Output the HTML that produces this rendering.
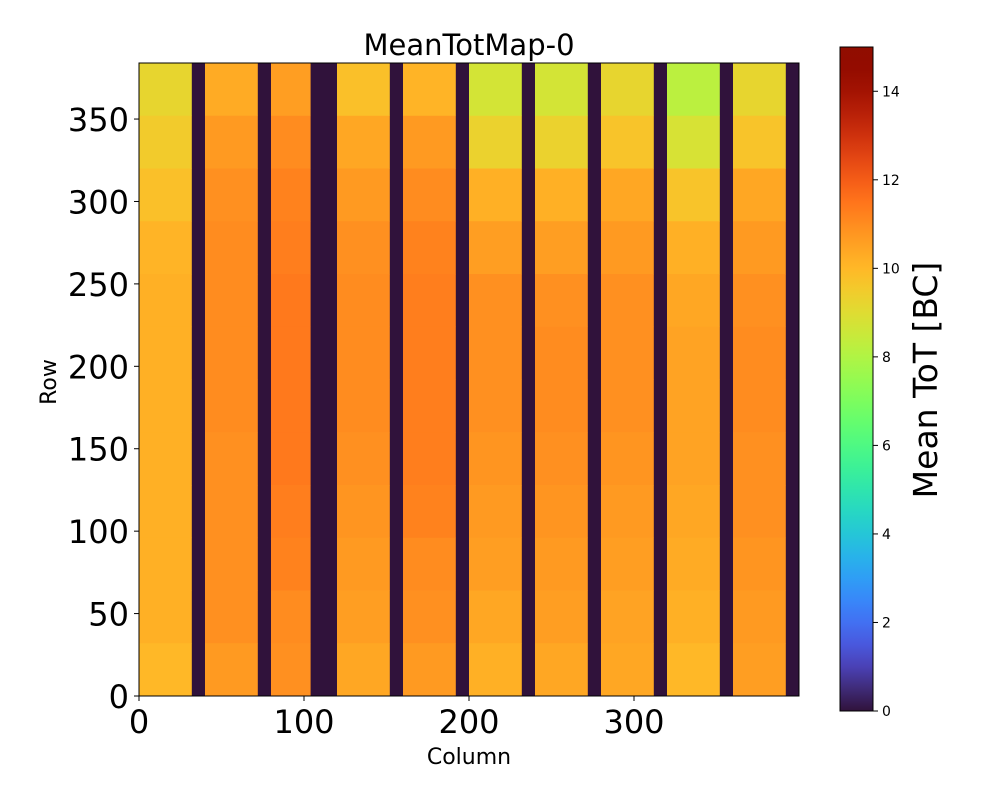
<!DOCTYPE html>
<html><head><meta charset="utf-8"><style>
body{margin:0;background:#fff}
svg text{font-family:"DejaVu Sans","Liberation Sans",sans-serif}
</style></head><body>
<svg id="chart" width="1000" height="800" xmlns="http://www.w3.org/2000/svg">
<text x="469" y="55" font-size="29" text-anchor="middle">MeanTotMap-0</text>
<g id="cells"></g>
<g id="xaxis"></g>
<g id="yaxis"></g>
<rect x="139" y="63" width="660" height="633" fill="none" stroke="#000" stroke-width="1"/>
<text x="469" y="764" font-size="22" text-anchor="middle">Column</text>
<text x="56" y="382" font-size="22" text-anchor="middle" transform="rotate(-90 56 382)">Row</text>
<defs><linearGradient id="cbg" x1="0" y1="1" x2="0" y2="0"></linearGradient></defs>
<rect x="840" y="47" width="33" height="664" fill="url(#cbg)" stroke="#000" stroke-width="1"/>
<g id="cbaxis"></g>
<text x="937" y="380" font-size="33" text-anchor="middle" transform="rotate(-90 937 380)">Mean ToT [BC]</text>
</svg>
<script>
const stripeStarts=[0,40,80,120,160,200,240,280,320,360];
const stripeEnds=[32,72,104,152,192,232,272,312,352,392];
const rowBandStarts=[352,320,288,256,224,192,160,128,96,64,32,0];
const stripeMeans=[
 [9.2,9.5,9.8,10.1,10.2,10.2,10.2,10.2,10.2,10.2,10.2,10.0],
 [10.3,10.7,10.9,11.0,11.0,11.0,11.0,10.9,10.9,10.9,10.9,10.7],
 [10.6,11.0,11.2,11.3,11.4,11.4,11.4,11.4,11.3,11.2,11.0,10.9],
 [9.8,10.4,10.7,10.9,11.0,11.0,11.0,10.9,10.8,10.7,10.6,10.4],
 [10.1,10.7,11.0,11.2,11.3,11.3,11.3,11.3,11.2,11.0,10.9,10.7],
 [8.7,9.3,10.2,10.6,10.9,10.9,10.9,10.8,10.7,10.6,10.4,10.2],
 [8.7,9.3,10.2,10.6,10.9,11.0,11.0,10.9,10.8,10.7,10.6,10.4],
 [9.2,9.7,10.4,10.7,10.9,10.9,10.9,10.8,10.7,10.6,10.5,10.4],
 [8.2,8.8,9.7,10.2,10.4,10.5,10.5,10.5,10.4,10.3,10.2,10.0],
 [9.2,9.7,10.4,10.7,10.9,11.0,11.0,10.9,10.9,10.8,10.7,10.6]
];
const xTicks=[0,100,200,300];
const yTicks=[0,50,100,150,200,250,300,350];
const cbTicks=[0,2,4,6,8,10,12,14];
const NS="http://www.w3.org/2000/svg";
const X0=139,X1=799,Y0=696,Y1=63,NC=400,NR=384;
const xs=c=>X0+c*(X1-X0)/NC, ys=r=>Y0-r*(Y0-Y1)/NR;
const VMAX=15, cbY=v=>711-v*664/VMAX;
function turbo(x){x=Math.max(0,Math.min(1,x));
 if(x<0.01) return 'rgb(48,18,59)';
 const r=0.13572138+x*(4.61539260+x*(-42.66032258+x*(132.13108234+x*(-152.94239396+x*59.28637943))));
 const g=0.09140261+x*(2.19418839+x*(4.84296658+x*(-14.18503333+x*(4.27729857+x*2.82956604))));
 const b=0.10667330+x*(12.64194608+x*(-60.58204836+x*(110.36276771+x*(-89.90310912+x*27.34824973))));
 const f=v=>Math.round(255*Math.max(0,Math.min(1,v)));
 return `rgb(${f(r)},${f(g)},${f(b)})`;}
function mk(tag,attrs,parent){const e=document.createElementNS(NS,tag);for(const k in attrs)e.setAttribute(k,attrs[k]);parent.appendChild(e);return e;}
const cells=document.getElementById('cells');
const bg=mk('rect',{x:X0,y:Y1,width:X1-X0,height:Y0-Y1,fill:'rgb(48,18,59)'},cells);


stripeStarts.forEach((s,i)=>{
 rowBandStarts.forEach((r,j)=>{
  const x=xs(s),w=xs(stripeEnds[i])-x,y=ys(Math.min(r+32,NR)),h=ys(r)-y;
  const e=mk('rect',{x:x,y:y,width:w,height:h+0.3,fill:turbo(stripeMeans[i][j]/VMAX)},cells);
  
  
 });
});
const xa=document.getElementById('xaxis');
xTicks.forEach(t=>{
 const l=mk('line',{x1:xs(t),x2:xs(t),y1:Y0,y2:Y0+5,stroke:'#000'},xa);
 
 
 const tx=mk('text',{x:xs(t),y:Y0+37,'font-size':32,'text-anchor':'middle'},xa);tx.textContent=t;
 
 
});
const ya=document.getElementById('yaxis');
yTicks.forEach(t=>{
 const l=mk('line',{x1:X0-5,x2:X0,y1:ys(t),y2:ys(t),stroke:'#000'},ya);
 
 
 const tx=mk('text',{x:X0-10,y:ys(t)+12,'font-size':32,'text-anchor':'end'},ya);tx.textContent=t;
 
 
});
const grad=document.getElementById('cbg');
for(let i=0;i<=30;i++){mk('stop',{offset:(i/30),'stop-color':i==0?'rgb(48,18,59)':turbo(i/30)},grad);}
const cba=document.getElementById('cbaxis');
cbTicks.forEach(t=>{
 const l=mk('line',{x1:873,x2:878,y1:cbY(t),y2:cbY(t),stroke:'#000'},cba);
 
 
 const tx=mk('text',{x:882,y:cbY(t)+5,'font-size':14},cba);tx.textContent=t;
 
 
});
</script>
</body></html>
